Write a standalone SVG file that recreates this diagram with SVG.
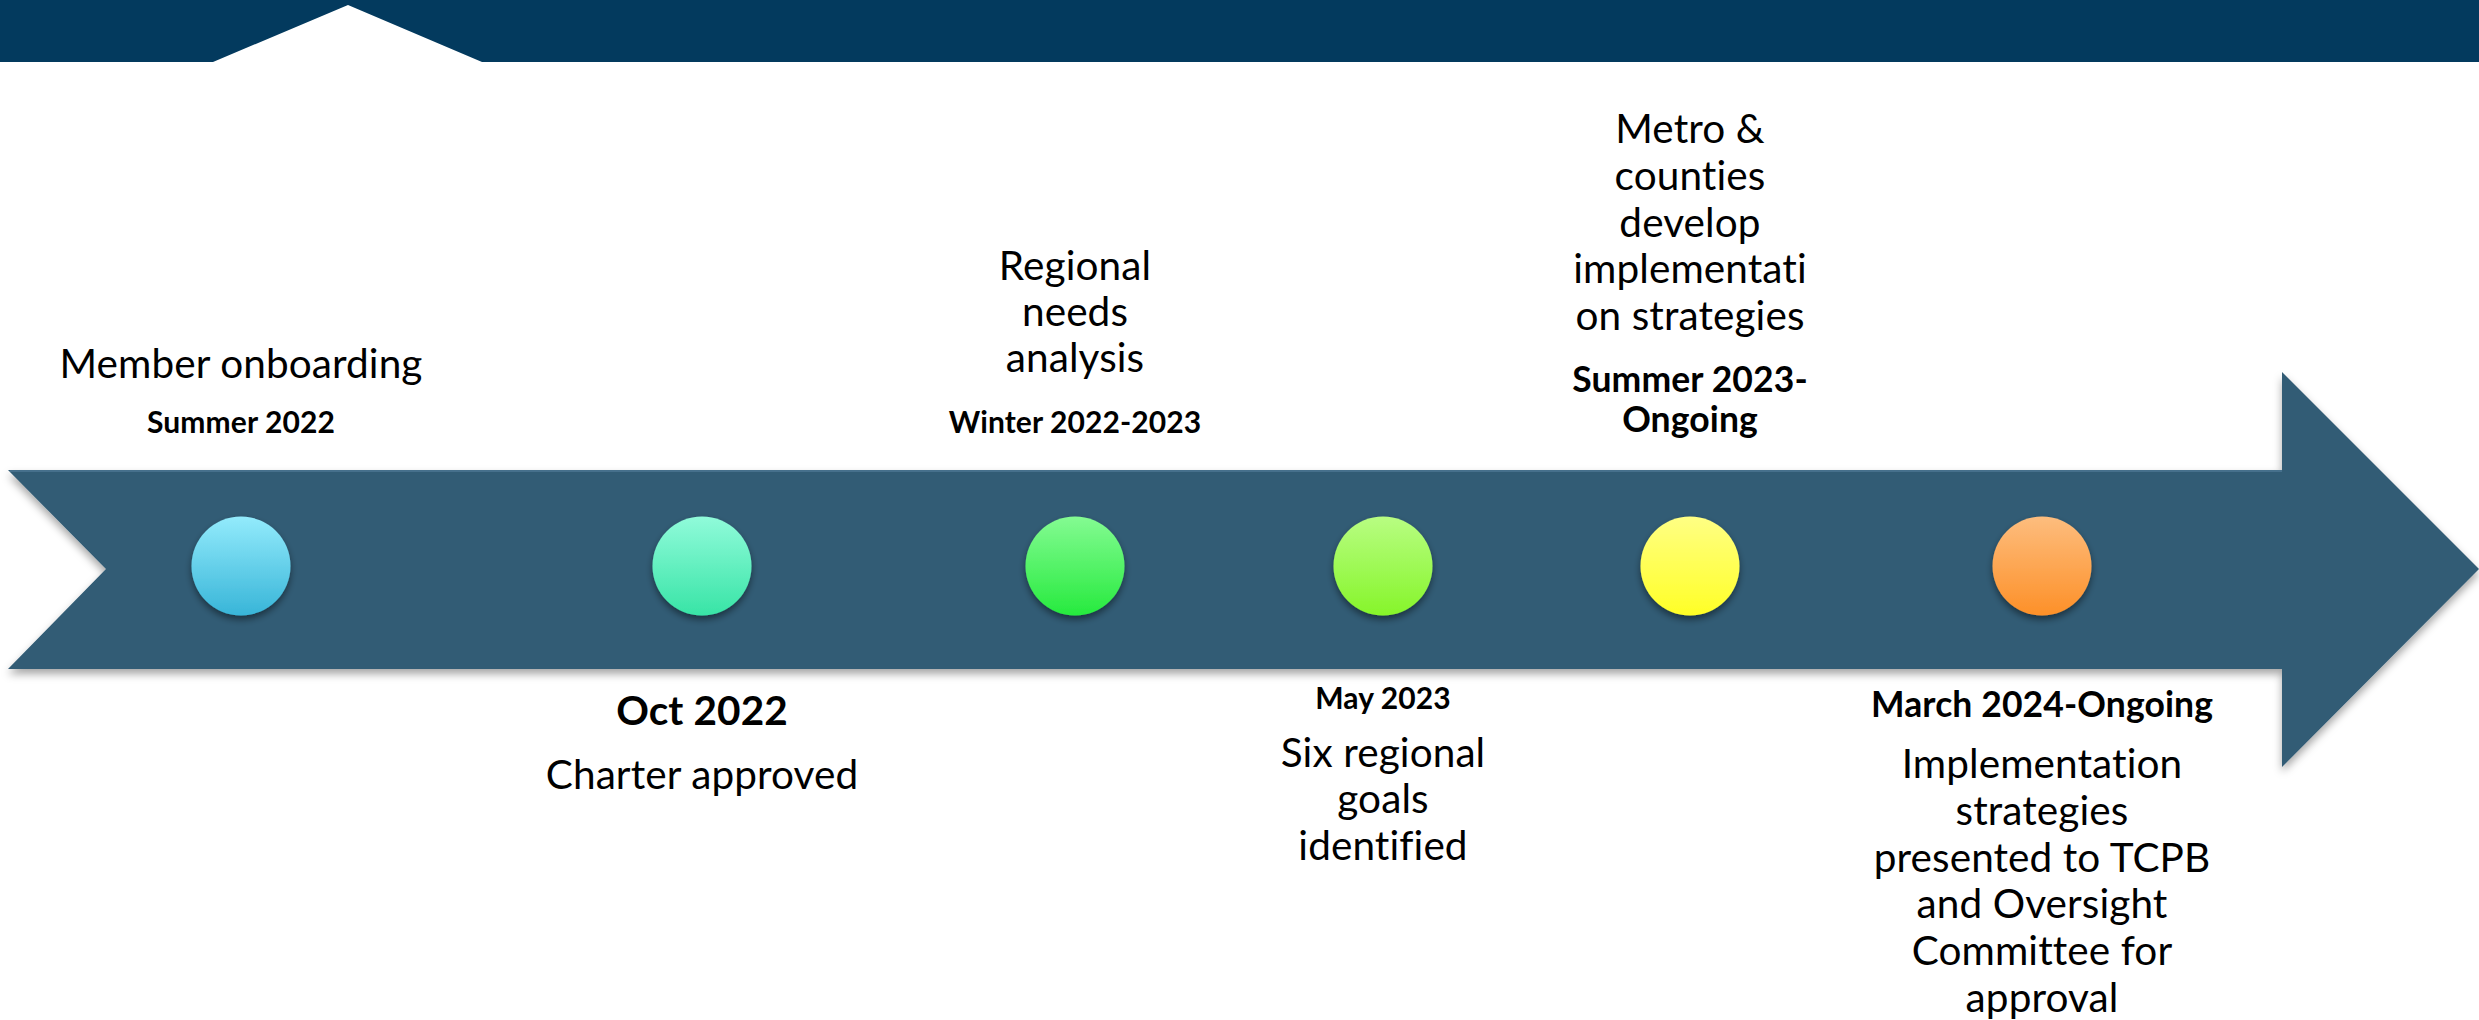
<svg xmlns="http://www.w3.org/2000/svg" width="2479" height="1020" viewBox="0 0 2479 1020">
<style>
text{font-variant-ligatures:none;font-feature-settings:"liga" 0,"clig" 0,"dlig" 0,"calt" 0;letter-spacing:0.1px}
.r{font-family:Lato,"Open Sans","Liberation Sans",sans-serif;font-size:40.5px;fill:#000;text-anchor:middle}
.b{font-family:Lato,"Open Sans","Liberation Sans",sans-serif;font-weight:bold;fill:#000;text-anchor:middle}
.s{font-size:30px}.m{font-size:35.5px}.l{font-size:40.5px}
</style>
<defs>
<filter id="sh" x="-5%" y="-20%" width="110%" height="150%"><feDropShadow dx="0" dy="5" stdDeviation="4" flood-color="#000" flood-opacity="0.35"/></filter>
<filter id="csh" x="-30%" y="-30%" width="160%" height="170%"><feDropShadow dx="0" dy="4" stdDeviation="3.5" flood-color="#000" flood-opacity="0.45"/></filter>
<linearGradient id="g1" x1="0" y1="0" x2="0" y2="1"><stop offset="0" stop-color="#93EBFC"/><stop offset="1" stop-color="#38B5D8"/></linearGradient>
<linearGradient id="g2" x1="0" y1="0" x2="0" y2="1"><stop offset="0" stop-color="#90FBDA"/><stop offset="1" stop-color="#38E4A6"/></linearGradient>
<linearGradient id="g3" x1="0" y1="0" x2="0" y2="1"><stop offset="0" stop-color="#84FB92"/><stop offset="1" stop-color="#26EA3E"/></linearGradient>
<linearGradient id="g4" x1="0" y1="0" x2="0" y2="1"><stop offset="0" stop-color="#B8FD82"/><stop offset="1" stop-color="#86F52A"/></linearGradient>
<linearGradient id="g5" x1="0" y1="0" x2="0" y2="1"><stop offset="0" stop-color="#FFFF84"/><stop offset="1" stop-color="#FFFF26"/></linearGradient>
<linearGradient id="g6" x1="0" y1="0" x2="0" y2="1"><stop offset="0" stop-color="#FDBD7E"/><stop offset="1" stop-color="#FD9028"/></linearGradient>
</defs>
<path id="topbar" d="M0,0 H2479 V62 H482 L348,5 L213,62 H0 Z" fill="#033A5E"/>
<g id="connectors">
<polygon points="8,470 2282,470 2282,372 2479,569 2282,767 2282,669 8,669 106,569" fill="#315B74" filter="url(#sh)"/>
<line x1="10" y1="471" x2="2282" y2="471" stroke="#46708C" stroke-width="2"/>
</g>
<g id="n1">
<circle cx="241" cy="566" r="49.5" fill="url(#g1)" filter="url(#csh)"/>
<text class="r" x="241" y="378">Member onboarding</text>
<text class="b s" x="241" y="433">Summer 2022</text>
</g>
<g id="n2">
<circle cx="702" cy="566" r="49.5" fill="url(#g2)" filter="url(#csh)"/>
<text class="b l" x="702" y="725">Oct 2022</text>
<text class="r" x="702" y="789">Charter approved</text>
</g>
<g id="n3">
<circle cx="1075" cy="566" r="49.5" fill="url(#g3)" filter="url(#csh)"/>
<text class="r" x="1075" y="280">Regional</text>
<text class="r" x="1075" y="326">needs</text>
<text class="r" x="1075" y="372">analysis</text>
<text class="b s" x="1075" y="433">Winter 2022-2023</text>
</g>
<g id="n4">
<circle cx="1383" cy="566" r="49.5" fill="url(#g4)" filter="url(#csh)"/>
<text class="b s" x="1383" y="709">May 2023</text>
<text class="r" x="1383" y="767">Six regional</text>
<text class="r" x="1383" y="813">goals</text>
<text class="r" x="1383" y="860">identified</text>
</g>
<g id="n5">
<circle cx="1690" cy="566" r="49.5" fill="url(#g5)" filter="url(#csh)"/>
<text class="r" x="1690" y="143">Metro &amp;</text>
<text class="r" x="1690" y="190">counties</text>
<text class="r" x="1690" y="237">develop</text>
<text class="r" x="1690" y="283">implementati</text>
<text class="r" x="1690" y="330">on strategies</text>
<text class="b m" x="1690" y="392">Summer 2023-</text>
<text class="b m" x="1690" y="432">Ongoing</text>
</g>
<g id="n6">
<circle cx="2042" cy="566" r="49.5" fill="url(#g6)" filter="url(#csh)"/>
<text class="b m" x="2042" y="717">March 2024-Ongoing</text>
<text class="r" x="2042" y="778">Implementation</text>
<text class="r" x="2042" y="825">strategies</text>
<text class="r" x="2042" y="872">presented to TCPB</text>
<text class="r" x="2042" y="918">and Oversight</text>
<text class="r" x="2042" y="965">Committee for</text>
<text class="r" x="2042" y="1012">approval</text>
</g>
</svg>
